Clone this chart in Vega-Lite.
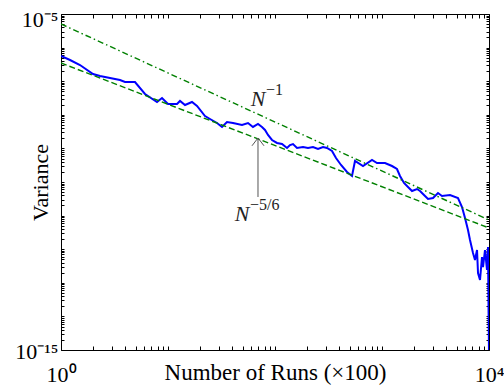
{
  "$schema": "https://vega.github.io/schema/vega-lite/v6.json",
  "width": 428,
  "height": 336,
  "autosize": {"type": "none"},
  "padding": {"left": 61, "top": 14, "right": 15, "bottom": 39},
  "background": "white",
  "config": {
    "view": {"stroke": null},
    "font": "Liberation Serif",
    "axis": {
      "grid": false,
      "domainColor": "black",
      "tickColor": "black",
      "labelColor": "black",
      "titleColor": "black",
      "labelFont": "Liberation Serif",
      "titleFont": "Liberation Serif",
      "titleFontWeight": "normal",
      "labelFlush": false,
      "labelOverlap": false,
      "labelBound": false
    }
  },
  "datasets": {
    "blue": [
      {"runs": 1, "variance": 5.62e-7},
      {"runs": 1.214, "variance": 4.28e-7},
      {"runs": 1.505, "variance": 3.03e-7},
      {"runs": 1.991, "variance": 1.64e-7},
      {"runs": 2.315, "variance": 1.43e-7},
      {"runs": 2.871, "variance": 1.245e-7},
      {"runs": 3.559, "variance": 1.086e-7},
      {"runs": 3.963, "variance": 9.46e-8},
      {"runs": 4.915, "variance": 9.46e-8},
      {"runs": 6.096, "variance": 4.16e-8},
      {"runs": 7.894, "variance": 2.40e-8},
      {"runs": 8.79, "variance": 3.16e-8},
      {"runs": 10, "variance": 2.09e-8},
      {"runs": 12.14, "variance": 2.09e-8},
      {"runs": 12.95, "variance": 2.58e-8},
      {"runs": 14.42, "variance": 1.96e-8},
      {"runs": 16.76, "variance": 2.40e-8},
      {"runs": 18.67, "variance": 1.83e-8},
      {"runs": 22.17, "variance": 9.2e-9},
      {"runs": 24.69, "variance": 7.5e-9},
      {"runs": 28.71, "variance": 5.7e-9},
      {"runs": 31.97, "variance": 4.34e-9},
      {"runs": 35.58, "variance": 6.11e-9},
      {"runs": 40.51, "variance": 5.7e-9},
      {"runs": 49.15, "variance": 4.97e-9},
      {"runs": 55.95, "variance": 5.7e-9},
      {"runs": 62.26, "variance": 4.34e-9},
      {"runs": 69.35, "variance": 5.32e-9},
      {"runs": 75.57, "variance": 4.34e-9},
      {"runs": 80.63, "variance": 3.53e-9},
      {"runs": 86.03, "variance": 2.51e-9},
      {"runs": 93.75, "variance": 1.78e-9},
      {"runs": 104.4, "variance": 1.45e-9},
      {"runs": 116.3, "variance": 1.35e-9},
      {"runs": 129.5, "variance": 1.03e-9},
      {"runs": 138.1, "variance": 1.26e-9},
      {"runs": 147.3, "variance": 1.35e-9},
      {"runs": 160.6, "variance": 1.03e-9},
      {"runs": 182.7, "variance": 1.10e-9},
      {"runs": 203.4, "variance": 1.03e-9},
      {"runs": 226.5, "variance": 1.10e-9},
      {"runs": 252.3, "variance": 9.6e-10},
      {"runs": 280.9, "variance": 1.10e-9},
      {"runs": 306.2, "variance": 1.03e-9},
      {"runs": 341.0, "variance": 8.37e-10},
      {"runs": 371.6, "variance": 5.18e-10},
      {"runs": 414.0, "variance": 3.21e-10},
      {"runs": 470.9, "variance": 1.99e-10},
      {"runs": 524.4, "variance": 1.51e-10},
      {"runs": 559.4, "variance": 4.22e-10},
      {"runs": 664.5, "variance": 2.99e-10},
      {"runs": 806.4, "variance": 4.52e-10},
      {"runs": 898.3, "variance": 3.67e-10},
      {"runs": 1067, "variance": 3.67e-10},
      {"runs": 1240, "variance": 2.99e-10},
      {"runs": 1380, "variance": 2.44e-10},
      {"runs": 1473, "variance": 1.51e-10},
      {"runs": 1606, "variance": 9.33e-11},
      {"runs": 1750, "variance": 7.10e-11},
      {"runs": 1907, "variance": 5.40e-11},
      {"runs": 2125, "variance": 6.19e-11},
      {"runs": 2266, "variance": 5.40e-11},
      {"runs": 2523, "variance": 3.83e-11},
      {"runs": 2692, "variance": 3.12e-11},
      {"runs": 2998, "variance": 3.34e-11},
      {"runs": 3337, "variance": 4.71e-11},
      {"runs": 3637, "variance": 3.83e-11},
      {"runs": 4321, "variance": 4.10e-11},
      {"runs": 5130, "variance": 3.34e-11},
      {"runs": 5594, "variance": 1.80e-11},
      {"runs": 5968, "variance": 8.49e-12},
      {"runs": 6364, "variance": 3.73e-12},
      {"runs": 6645, "variance": 1.88e-12},
      {"runs": 7087, "variance": 7.71e-13},
      {"runs": 7397, "variance": 4.78e-13},
      {"runs": 7727, "variance": 9.46e-13},
      {"runs": 7894, "variance": 1.96e-13},
      {"runs": 8241, "variance": 1.21e-13},
      {"runs": 8602, "variance": 5.86e-13},
      {"runs": 8790, "variance": 2.95e-13},
      {"runs": 9175, "variance": 9.46e-13},
      {"runs": 9579, "variance": 2.40e-13},
      {"runs": 9788, "variance": 1.16e-12},
      {"runs": 9910, "variance": 1.26e-14},
      {"runs": 9990, "variance": 1e-15}
    ],
    "n1": [
      {"runs": 1, "variance": 5.04e-6},
      {"runs": 10000, "variance": 7.40e-12}
    ],
    "n56": [
      {"runs": 1, "variance": 3.48e-7},
      {"runs": 10000, "variance": 4.28e-12}
    ],
    "arrow": [
      {"runs": 69.35, "tip": 2.04e-9, "tail": 3.58e-11}
    ],
    "ann": [
      {"runs": 69.35, "variance": 1.83e-8, "base": "N", "sup": "−1"},
      {"runs": 49.15, "variance": 6.9e-12, "base": "N", "sup": "−5/6"}
    ]
  },
  "layer": [
    {
      "data": {"name": "blue"},
      "mark": {"type": "line", "color": "#0000ff", "strokeWidth": 2, "clip": true},
      "encoding": {
        "x": {
          "field": "runs", "type": "quantitative",
          "scale": {"type": "log", "domain": [1, 10000], "nice": false},
          "axis": {
            "orient": "bottom",
            "values": [1,2,3,4,5,6,7,8,9,10,20,30,40,50,60,70,80,90,100,200,300,400,500,600,700,800,900,1000,2000,3000,4000,5000,6000,7000,8000,9000,10000],
            "labelExpr": "datum.value < 1.5 ? '10⁰' : datum.value > 9999 ? '10⁴' : ''",
            "tickSize": -4,
            "labelFontSize": 22,
            "labelBaseline": "alphabetic",
            "labelPadding": 35,
            "title": "Number of Runs (×100)",
            "titleFontSize": 23,
            "titleBaseline": "alphabetic",
            "titleY": 29
          }
        },
        "y": {
          "field": "variance", "type": "quantitative",
          "scale": {"type": "log", "domain": [1e-15, 1e-5], "nice": false},
          "axis": {
            "orient": "left",
            "values": [1e-15,2e-15,3e-15,4e-15,5e-15,6e-15,7e-15,8e-15,9e-15,1e-14,2e-14,3e-14,4e-14,5e-14,6e-14,7e-14,8e-14,9e-14,1e-13,2e-13,3e-13,4e-13,5e-13,6e-13,7e-13,8e-13,9e-13,1e-12,2e-12,3e-12,4e-12,5e-12,6e-12,7e-12,8e-12,9e-12,1e-11,2e-11,3e-11,4e-11,5e-11,6e-11,7e-11,8e-11,9e-11,1e-10,2e-10,3e-10,4e-10,5e-10,6e-10,7e-10,8e-10,9e-10,1e-9,2e-9,3e-9,4e-9,5e-9,6e-9,7e-9,8e-9,9e-9,1e-8,2e-8,3e-8,4e-8,5e-8,6e-8,7e-8,8e-8,9e-8,1e-7,2e-7,3e-7,4e-7,5e-7,6e-7,7e-7,8e-7,9e-7,1e-6,2e-6,3e-6,4e-6,5e-6,6e-6,7e-6,8e-6,9e-6,1e-5],
            "labelExpr": "datum.value > 9.9e-6 ? '10⁻⁵' : datum.value < 1.5e-15 ? '10⁻¹⁵' : ''",
            "tickSize": -3,
            "labelFontSize": 22,
            "labelAlign": "right",
            "labelBaseline": "alphabetic",
            "labelOffset": {"condition": {"test": "datum.value < 1.5e-15", "value": 8}, "value": 12},
            "labelPadding": 6,
            "title": "Variance",
            "titleFontSize": 22,
            "titleAngle": -90,
            "titleBaseline": "alphabetic",
            "titleAlign": "center",
            "titleX": -14,
            "titleY": 168
          }
        }
      }
    },
    {
      "data": {"name": "n1"},
      "mark": {"type": "line", "color": "#008000", "strokeWidth": 1.4, "strokeDash": [6, 3, 1.5, 3], "clip": true},
      "encoding": {
        "x": {
          "field": "runs", "type": "quantitative",
          "axis": {
            "orient": "top",
            "values": [1,2,3,4,5,6,7,8,9,10,20,30,40,50,60,70,80,90,100,200,300,400,500,600,700,800,900,1000,2000,3000,4000,5000,6000,7000,8000,9000,10000],
            "labels": false,
            "tickSize": -4,
            "title": null
          }
        },
        "y": {
          "field": "variance", "type": "quantitative",
          "axis": {
            "orient": "right",
            "values": [1e-15,2e-15,3e-15,4e-15,5e-15,6e-15,7e-15,8e-15,9e-15,1e-14,2e-14,3e-14,4e-14,5e-14,6e-14,7e-14,8e-14,9e-14,1e-13,2e-13,3e-13,4e-13,5e-13,6e-13,7e-13,8e-13,9e-13,1e-12,2e-12,3e-12,4e-12,5e-12,6e-12,7e-12,8e-12,9e-12,1e-11,2e-11,3e-11,4e-11,5e-11,6e-11,7e-11,8e-11,9e-11,1e-10,2e-10,3e-10,4e-10,5e-10,6e-10,7e-10,8e-10,9e-10,1e-9,2e-9,3e-9,4e-9,5e-9,6e-9,7e-9,8e-9,9e-9,1e-8,2e-8,3e-8,4e-8,5e-8,6e-8,7e-8,8e-8,9e-8,1e-7,2e-7,3e-7,4e-7,5e-7,6e-7,7e-7,8e-7,9e-7,1e-6,2e-6,3e-6,4e-6,5e-6,6e-6,7e-6,8e-6,9e-6,1e-5],
            "labels": false,
            "tickSize": -3,
            "title": null
          }
        }
      }
    },
    {
      "data": {"name": "n56"},
      "mark": {"type": "line", "color": "#008000", "strokeWidth": 1.4, "strokeDash": [6, 3], "clip": true},
      "encoding": {
        "x": {"field": "runs", "type": "quantitative", "axis": null},
        "y": {"field": "variance", "type": "quantitative", "axis": null}
      }
    },
    {
      "data": {"name": "arrow"},
      "mark": {"type": "rule", "color": "#555555", "strokeWidth": 1},
      "encoding": {
        "x": {"field": "runs", "type": "quantitative", "axis": null},
        "y": {"field": "tip", "type": "quantitative", "axis": null},
        "y2": {"field": "tail"}
      }
    },
    {
      "data": {"name": "arrow"},
      "mark": {"type": "point", "shape": "M -1 1.3 L 0 0 L 1 1.3", "filled": false, "stroke": "#555555", "strokeWidth": 1, "size": 144, "opacity": 1},
      "encoding": {
        "x": {"field": "runs", "type": "quantitative", "axis": null},
        "y": {"field": "tip", "type": "quantitative", "axis": null}
      }
    },
    {
      "data": {"name": "ann"},
      "mark": {"type": "text", "font": "Liberation Serif", "fontStyle": "italic", "fontSize": 22, "align": "center", "baseline": "alphabetic", "color": "#222222"},
      "encoding": {
        "x": {"field": "runs", "type": "quantitative", "axis": null},
        "y": {"field": "variance", "type": "quantitative", "axis": null},
        "text": {"field": "base"}
      }
    },
    {
      "data": {"name": "ann"},
      "mark": {"type": "text", "font": "Liberation Serif", "fontSize": 16, "align": "left", "baseline": "alphabetic", "dx": 8, "dy": -11, "color": "#222222"},
      "encoding": {
        "x": {"field": "runs", "type": "quantitative", "axis": null},
        "y": {"field": "variance", "type": "quantitative", "axis": null},
        "text": {"field": "sup"}
      }
    }
  ],
  "resolve": {"axis": {"x": "independent", "y": "independent"}}
}
